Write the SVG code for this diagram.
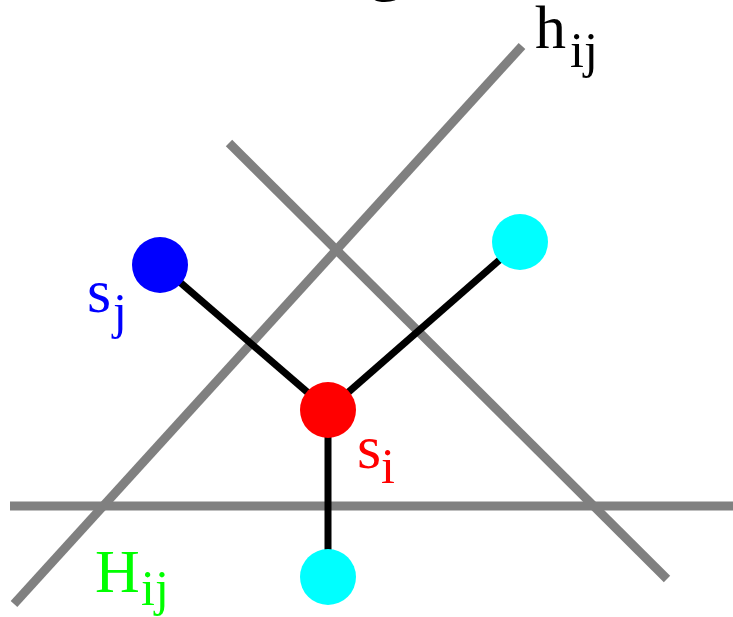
<svg xmlns="http://www.w3.org/2000/svg" width="733" height="617" viewBox="0 0 733 617">
<style>
.line{stroke:#808080;stroke-width:9;fill:none}
.edge{stroke:#000;stroke-width:7;fill:none}
text{font-family:"Liberation Serif","Times New Roman",serif}
.m{font-size:62px}
.s{font-size:50px}
</style>
<rect width="733" height="617" fill="#fff"/>
<text x="386" y="-13" text-anchor="middle" style="font-size:72px">g</text>
<g id="lines">
<line class="line" x1="10" y1="506" x2="733" y2="506"/>
<line class="line" x1="14" y1="604" x2="522" y2="46"/>
<line class="line" x1="229" y1="143" x2="667" y2="579"/>
</g>
<g id="connectors">
<line class="edge" x1="160" y1="265" x2="328" y2="410"/>
<line class="edge" x1="328" y1="410" x2="520" y2="242"/>
<line class="edge" x1="328" y1="410" x2="328" y2="577"/>
</g>
<g id="sj"><circle cx="160" cy="265" r="28" fill="#0000ff"/></g>
<g id="cyan1"><circle cx="520" cy="242" r="28" fill="#00ffff"/></g>
<g id="si"><circle cx="328" cy="410" r="28" fill="#ff0000"/></g>
<g id="cyan2"><circle cx="328" cy="577" r="28" fill="#00ffff"/></g>
<g id="labels">
<text class="m" x="535" y="48">h</text><text class="s" x="570" y="67">ij</text>
<text class="m" x="87" y="312" fill="#0000ff">s</text><text class="s" x="113" y="328" fill="#0000ff">j</text>
<text class="m" x="357" y="468" fill="#ff0000">s</text><text class="s" x="381" y="483" fill="#ff0000">i</text>
<text class="m" x="95" y="592" fill="#00ff00">H</text><text class="s" x="141" y="605" fill="#00ff00">ij</text>
</g>
</svg>
